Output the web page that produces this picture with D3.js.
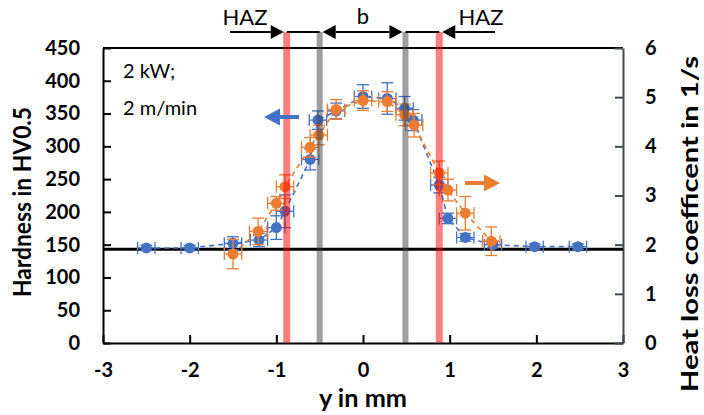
<!DOCTYPE html>
<html>
<head>
<meta charset="utf-8">
<script src="https://cdn.jsdelivr.net/npm/d3@7"></script>
<style>
  body { margin: 0; background: #fff; }
  svg { font-family: Lato, "Open Sans", sans-serif; }
</style>
</head>
<body>
<div id="chart"></div>
<script>
// hardness (left axis)
var hardX = [-2.5, -2.0, -1.5, -1.2, -1.0, -0.9, -0.61, -0.52, -0.31, 0.0, 0.28, 0.48, 0.58, 0.88, 0.98, 1.18, 1.5, 1.98, 2.48];
var hardY = [145, 145, 152, 157, 176, 201, 280, 340, 354, 376, 373, 358, 340, 241, 190, 161, 150, 147, 147];
var hardErr = [4, 4, 10, 10, 18, 25, 16, 14, 12, 18, 24, 18, 16, 12, 8, 6, 5, 4, 4];
// heat loss coefficient (right axis)
var heatX = [-1.5, -1.21, -1.0, -0.9, -0.61, -0.51, -0.31, 0.0, 0.28, 0.48, 0.59, 0.88, 0.98, 1.18, 1.48];
var heatY = [1.81, 2.27, 2.84, 3.18, 3.98, 4.23, 4.75, 4.93, 4.91, 4.64, 4.43, 3.46, 3.11, 2.64, 2.07];
var heatErr = [0.3, 0.27, 0.14, 0.24, 0.2, 0.2, 0.2, 0.2, 0.2, 0.22, 0.24, 0.24, 0.22, 0.34, 0.29];
var xErr = 0.1;

var xTicks = [-3, -2, -1, 0, 1, 2, 3];
var leftTicks = [0, 50, 100, 150, 200, 250, 300, 350, 400, 450];
var rightTicks = [0, 1, 2, 3, 4, 5, 6];

var baseHardness = 143;
var hazEdges = [-0.88, 0.88];
var weldEdges = [-0.5, 0.49];

var blue = '#4472C4', orange = '#ED7D31';

var width = 704, height = 415;
var margin = { top: 48, right: 81, bottom: 72, left: 103 };

var svg = d3.select('#chart').append('svg')
  .attr('width', width)
  .attr('height', height);

var x = d3.scaleLinear().domain([-3, 3]).range([margin.left, width - margin.right]);
var yL = d3.scaleLinear().domain([0, 450]).range([height - margin.bottom, margin.top]);
var yR = d3.scaleLinear().domain([0, 6]).range([height - margin.bottom, margin.top]);

var plain = function(d) { return String(d); };

// frame top
svg.append('line')
  .attr('x1', x(-3)).attr('x2', x(3))
  .attr('y1', yL(450)).attr('y2', yL(450))
  .style('stroke', '#000').style('stroke-width', 2);

var xAxis = svg.append('g')
  .attr('transform', 'translate(0,' + yL(0) + ')')
  .call(d3.axisBottom(x).tickValues(xTicks).tickFormat(plain).tickSizeInner(-8).tickSizeOuter(0).tickPadding(20));
var lAxis = svg.append('g')
  .attr('transform', 'translate(' + x(-3) + ',0)')
  .call(d3.axisLeft(yL).tickValues(leftTicks).tickFormat(plain).tickSizeInner(-8).tickSizeOuter(0).tickPadding(23));
var rAxis = svg.append('g')
  .attr('transform', 'translate(' + x(3) + ',0)')
  .call(d3.axisRight(yR).tickValues(rightTicks).tickFormat(plain).tickSizeInner(-8).tickSizeOuter(0).tickPadding(22));

[xAxis, lAxis].forEach(function(a) {
  a.selectAll('path, line').style('stroke', '#000').style('stroke-width', 2);
});
rAxis.selectAll('path, line').style('stroke', '#404850').style('stroke-width', 2);
[xAxis, lAxis, rAxis].forEach(function(a) {
  a.selectAll('text')
    .style('font-size', '20px')
    .style('font-weight', 'bold')
    .style('fill', '#000')
    .style('font-family', 'Lato, sans-serif');
});
rAxis.selectAll('text').attr('text-anchor', 'start');

// axis titles (squeezed to the narrow original face)
svg.append('text')
  .attr('transform', 'translate(31,202) rotate(-90)')
  .attr('text-anchor', 'middle')
  .attr('textLength', 190).attr('lengthAdjust', 'spacingAndGlyphs')
  .style('font-size', '24px').style('font-weight', 'bold')
  .text('Hardness in HV0.5');
svg.append('text')
  .attr('transform', 'translate(698,224) rotate(-90)')
  .attr('text-anchor', 'middle')
  .attr('textLength', 336).attr('lengthAdjust', 'spacingAndGlyphs')
  .style('font-size', '23px').style('font-weight', 'bold')
  .text('Heat loss coefficent in 1/s');
svg.append('text')
  .attr('x', x(0)).attr('y', 407)
  .attr('text-anchor', 'middle')
  .attr('textLength', 88).attr('lengthAdjust', 'spacingAndGlyphs')
  .style('font-size', '24px').style('font-weight', 'bold')
  .text('y in mm');

// base hardness line
svg.append('line')
  .attr('x1', x(-3)).attr('x2', x(3))
  .attr('y1', yL(baseHardness)).attr('y2', yL(baseHardness))
  .style('stroke', '#000').style('stroke-width', 3);

function drawSeries(xs, ys, errs, yScale, color) {
  var pts = xs.map(function(d, i) { return { x: d, y: ys[i], e: errs[i] }; });
  var line = d3.line().x(function(d) { return x(d.x); }).y(function(d) { return yScale(d.y); });
  svg.append('path')
    .datum(pts)
    .attr('d', line)
    .style('fill', 'none')
    .style('stroke', color)
    .style('stroke-width', 1.6)
    .style('stroke-dasharray', '5,4');

  var g = svg.append('g').style('stroke', color).style('stroke-width', 1.3);
  pts.forEach(function(d) {
    var cx = x(d.x), cy = yScale(d.y);
    var y1 = yScale(d.y + d.e), y2 = yScale(d.y - d.e);
    var x1 = x(d.x - xErr), x2 = x(d.x + xErr);
    g.append('line').attr('x1', cx).attr('x2', cx).attr('y1', y1).attr('y2', y2);
    g.append('line').attr('x1', cx - 6).attr('x2', cx + 6).attr('y1', y1).attr('y2', y1);
    g.append('line').attr('x1', cx - 6).attr('x2', cx + 6).attr('y1', y2).attr('y2', y2);
    g.append('line').attr('x1', x1).attr('x2', x2).attr('y1', cy).attr('y2', cy);
    g.append('line').attr('x1', x1).attr('x2', x1).attr('y1', cy - 6).attr('y2', cy + 6);
    g.append('line').attr('x1', x2).attr('x2', x2).attr('y1', cy - 6).attr('y2', cy + 6);
  });
  svg.append('g').selectAll('circle')
    .data(pts).enter().append('circle')
    .attr('cx', function(d) { return x(d.x); })
    .attr('cy', function(d) { return yScale(d.y); })
    .attr('r', 5.5)
    .style('fill', color);
}

drawSeries(hardX, hardY, hardErr, yL, blue);
drawSeries(heatX, heatY, heatErr, yR, orange);

// bands
var bandTop = 32;
svg.append('g').selectAll('rect')
  .data(hazEdges).enter().append('rect')
  .attr('x', function(d) { return x(d) - 3.5; })
  .attr('y', bandTop)
  .attr('width', 7)
  .attr('height', yL(0) - bandTop)
  .style('fill', '#ff0000').style('opacity', 0.5);
svg.append('g').selectAll('rect')
  .data(weldEdges).enter().append('rect')
  .attr('x', function(d) { return x(d) - 3; })
  .attr('y', bandTop)
  .attr('width', 6)
  .attr('height', yL(0) - bandTop)
  .style('fill', '#3a3f47').style('opacity', 0.5);

// arrows
function arrow(xFrom, xTo, yPos, color, lw, hl, hw) {
  var dir = xTo > xFrom ? 1 : -1;
  svg.append('line')
    .attr('x1', xFrom).attr('x2', xTo - dir * hl)
    .attr('y1', yPos).attr('y2', yPos)
    .style('stroke', color).style('stroke-width', lw);
  svg.append('path')
    .attr('d', 'M' + xTo + ',' + yPos + 'L' + (xTo - dir * hl) + ',' + (yPos - hw / 2) +
      'L' + (xTo - dir * hl) + ',' + (yPos + hw / 2) + 'Z')
    .style('fill', color);
}

var topY = 32;
arrow(230, x(hazEdges[0]) - 3, topY, '#000', 2, 13, 14);
svg.append('line')
  .attr('x1', x(hazEdges[0])).attr('x2', x(weldEdges[0]))
  .attr('y1', topY).attr('y2', topY)
  .style('stroke', '#000').style('stroke-width', 2);
arrow(x(0), x(weldEdges[0]) + 3, topY, '#000', 2, 13, 14);
arrow(x(0), x(weldEdges[1]) - 3, topY, '#000', 2, 13, 14);
arrow(495, x(hazEdges[1]) + 3, topY, '#000', 2, 13, 14);
svg.append('line')
  .attr('x1', x(weldEdges[1])).attr('x2', x(hazEdges[1]))
  .attr('y1', topY).attr('y2', topY)
  .style('stroke', '#000').style('stroke-width', 2);

svg.append('text').attr('x', 245).attr('y', 25).attr('text-anchor', 'middle')
  .style('font-size', '22px').text('HAZ');
svg.append('text').attr('x', x(0)).attr('y', 24).attr('text-anchor', 'middle')
  .style('font-size', '22px').text('b');
svg.append('text').attr('x', 481).attr('y', 25).attr('text-anchor', 'middle')
  .style('font-size', '22px').text('HAZ');

// series direction arrows
arrow(299, 264, 117, blue, 4, 16, 17);
arrow(465, 500, 183, orange, 4, 16, 17);

// condition note
svg.append('text').attr('x', 123).attr('y', 78)
  .style('font-size', '20px').text('2 kW;');
svg.append('text').attr('x', 123).attr('y', 115)
  .style('font-size', '20px').text('2 m/min');
</script>
</body>
</html>
